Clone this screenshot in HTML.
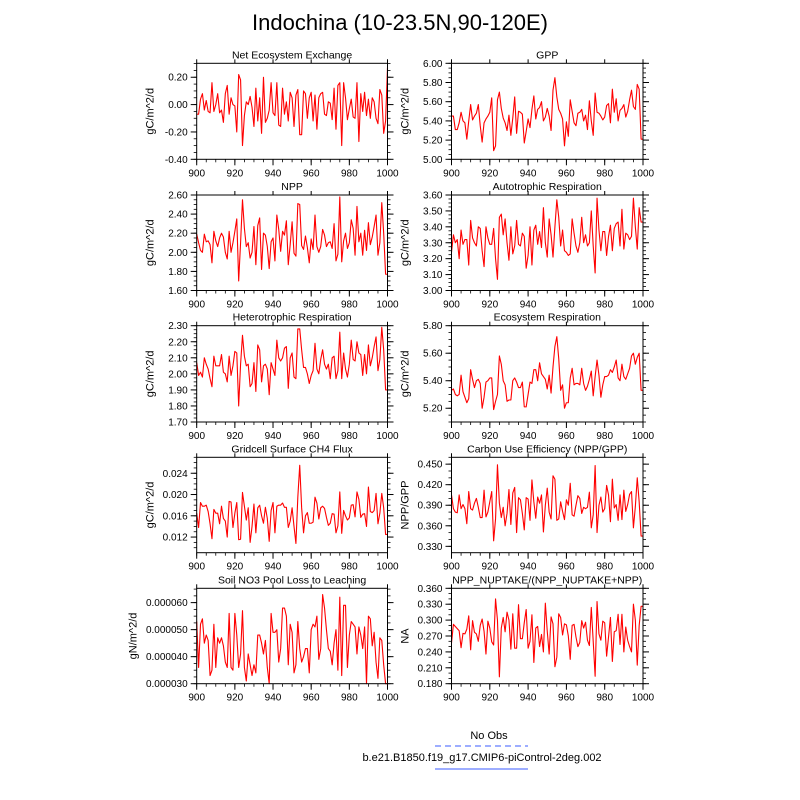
<!DOCTYPE html>
<html><head><meta charset="utf-8"><style>
body{margin:0;background:#fff;}
svg{display:block;font-family:"Liberation Sans",sans-serif;}
</style></head><body>
<svg id="fig" width="800" height="800" viewBox="0 0 800 800">
<text x="400" y="30" font-size="22" text-anchor="middle">Indochina (10-23.5N,90-120E)</text>
<text x="489" y="739" font-size="11" text-anchor="middle">No Obs</text>
<line x1="435" y1="746" x2="528" y2="746" stroke="#3b5bff" stroke-width="1" stroke-dasharray="6,4"/>
<text x="482" y="761" font-size="11" text-anchor="middle">b.e21.B1850.f19_g17.CMIP6-piControl-2deg.002</text>
<line x1="435" y1="769" x2="528" y2="769" stroke="#3b5bff" stroke-width="1"/>
</svg>
<script>
const years = []; for (let y = 900; y <= 1000; y++) years.push(y);
const xTicks = [900, 920, 940, 960, 980, 1000];
const neeVals = [-0.07,-0.07,0.04,0.08,-0.04,0.03,-0.05,-0.06,0.16,-0.05,0.0,0.08,-0.06,-0.04,-0.13,0.08,0.14,-0.07,0.05,0.0,-0.01,-0.20,0.22,0.18,-0.30,-0.08,0.02,0.0,0.06,-0.02,-0.16,0.12,-0.12,0.05,-0.21,0.20,-0.13,-0.10,-0.04,0.16,-0.06,-0.08,0.16,-0.15,-0.16,0.12,-0.07,0.02,-0.12,0.09,0.05,-0.16,0.07,0.11,-0.22,-0.22,0.10,0.08,-0.10,0.05,0.09,-0.12,0.07,-0.18,0.05,0.08,0.09,-0.07,-0.08,0.02,0.01,-0.11,0.12,-0.18,0.14,0.16,-0.30,0.16,0.05,-0.11,-0.03,0.04,-0.09,-0.10,0.16,-0.27,0.08,-0.05,0.09,-0.08,0.04,-0.10,0.05,0.02,-0.10,-0.14,0.11,0.07,-0.21,-0.12,0.27];
const gppVals = [5.45,5.45,5.31,5.31,5.38,5.49,5.40,5.38,5.21,5.40,5.57,5.41,5.45,5.48,5.57,5.35,5.18,5.38,5.42,5.45,5.49,5.64,5.09,5.14,5.62,5.70,5.53,5.43,5.38,5.30,5.46,5.25,5.43,5.65,5.27,5.50,5.49,5.47,5.17,5.29,5.42,5.33,5.52,5.66,5.42,5.52,5.54,5.60,5.40,5.44,5.53,5.45,5.30,5.72,5.85,5.65,5.52,5.48,5.42,5.14,5.39,5.24,5.62,5.50,5.38,5.35,5.48,5.49,5.52,5.40,5.46,5.31,5.61,5.40,5.25,5.69,5.49,5.48,5.45,5.41,5.44,5.56,5.58,5.38,5.73,5.49,5.63,5.40,5.51,5.53,5.57,5.44,5.50,5.62,5.72,5.55,5.52,5.78,5.73,5.21,5.21];
const nppVals = [2.19,2.10,2.02,2.00,2.19,2.11,2.12,2.08,1.89,2.22,2.12,2.06,2.15,2.20,2.16,2.00,1.93,2.22,2.00,2.10,2.22,2.35,1.70,2.10,2.55,2.25,2.06,2.10,1.94,2.00,2.27,1.87,2.28,2.36,1.82,2.20,2.18,2.06,1.83,2.11,2.15,1.91,2.39,2.24,2.01,2.22,2.18,2.33,1.87,2.08,2.32,1.99,1.96,2.51,2.50,2.07,2.03,2.17,2.05,1.89,2.14,2.03,2.39,2.06,2.00,2.06,2.24,2.18,2.06,2.10,2.11,2.04,2.30,1.91,1.98,2.58,1.90,2.12,2.20,2.04,2.10,2.34,2.25,1.97,2.48,2.11,2.20,1.97,2.23,2.02,2.31,2.08,2.16,2.27,2.39,1.97,2.10,2.52,2.20,1.77,1.77];
const arVals = [3.24,3.35,3.30,3.32,3.20,3.38,3.29,3.32,3.32,3.16,3.44,3.33,3.30,3.28,3.40,3.39,3.25,3.15,3.40,3.33,3.29,3.29,3.39,3.20,3.07,3.46,3.48,3.35,3.45,3.30,3.19,3.40,3.23,3.28,3.44,3.29,3.28,3.36,3.34,3.14,3.22,3.40,3.16,3.38,3.41,3.29,3.37,3.27,3.52,3.30,3.21,3.45,3.35,3.21,3.40,3.57,3.46,3.28,3.38,3.25,3.24,3.22,3.23,3.45,3.36,3.28,3.24,3.30,3.46,3.30,3.35,3.28,3.30,3.50,3.28,3.11,3.58,3.38,3.25,3.37,3.37,3.22,3.34,3.41,3.25,3.39,3.42,3.43,3.28,3.51,3.26,3.36,3.35,3.32,3.34,3.58,3.40,3.26,3.52,3.43,3.43];
const hrVals = [2.07,1.99,2.01,1.98,2.10,2.06,2.03,1.97,1.92,2.11,2.05,2.05,2.05,2.12,2.01,2.00,1.95,2.11,1.99,2.05,2.14,2.13,1.80,2.06,2.24,2.11,2.05,2.06,1.92,1.94,2.07,1.89,2.18,2.15,1.95,2.05,2.06,2.03,1.87,2.07,2.03,1.99,2.21,2.10,2.08,2.10,2.16,2.17,1.91,2.10,2.13,1.98,1.97,2.28,2.28,2.15,2.04,2.04,2.00,1.94,1.99,2.02,2.19,2.03,2.00,2.09,2.15,2.06,2.03,2.06,1.97,2.10,2.11,1.97,2.02,2.26,1.97,2.13,2.03,1.98,2.06,2.21,2.09,2.08,2.20,2.13,2.12,1.99,2.12,2.00,2.18,2.05,2.10,2.17,2.23,2.02,2.09,2.29,2.15,1.90,1.90];
const erVals = [5.33,5.34,5.30,5.29,5.30,5.44,5.32,5.28,5.24,5.27,5.48,5.41,5.35,5.40,5.41,5.38,5.20,5.28,5.39,5.40,5.42,5.42,5.19,5.25,5.30,5.58,5.52,5.40,5.37,5.25,5.26,5.26,5.40,5.42,5.39,5.35,5.35,5.39,5.21,5.21,5.30,5.39,5.38,5.48,5.48,5.40,5.53,5.45,5.43,5.41,5.34,5.44,5.31,5.50,5.65,5.72,5.56,5.33,5.37,5.20,5.24,5.24,5.42,5.49,5.37,5.38,5.38,5.37,5.49,5.38,5.33,5.36,5.41,5.47,5.29,5.43,5.55,5.44,5.28,5.37,5.43,5.43,5.44,5.48,5.46,5.50,5.55,5.42,5.40,5.52,5.43,5.41,5.45,5.49,5.58,5.60,5.52,5.57,5.60,5.33,5.33];
const ch4Vals = [16.5,13.8,18.5,17.8,17.8,18.0,16.8,14.5,11.7,17.2,16.5,16.5,14.5,17.8,15.5,15.0,12.0,18.7,18.6,13.8,16.5,18.5,11.5,11.6,20.4,17.8,15.2,17.5,11.0,14.0,18.2,12.8,17.5,18.0,16.0,14.6,17.6,15.5,11.2,17.0,18.5,12.8,17.8,18.0,18.0,18.4,17.6,17.6,13.8,15.0,17.5,14.0,10.8,19.5,25.5,17.5,12.8,16.0,16.6,14.6,14.6,14.8,19.5,18.4,15.4,17.5,17.8,17.4,15.7,14.2,14.6,16.4,16.3,12.8,14.1,20.5,12.7,17.0,16.0,15.2,15.6,18.0,18.1,15.8,20.5,19.1,15.7,16.3,16.4,14.0,21.4,16.8,16.6,17.0,20.2,14.5,16.5,20.2,17.5,12.5,12.5].map(v => v / 1000);
const cueVals = [0.405,0.385,0.380,0.379,0.405,0.385,0.391,0.385,0.363,0.410,0.385,0.383,0.393,0.400,0.387,0.372,0.372,0.412,0.373,0.380,0.395,0.410,0.338,0.370,0.449,0.393,0.372,0.387,0.360,0.378,0.413,0.362,0.408,0.416,0.350,0.401,0.398,0.378,0.354,0.401,0.399,0.368,0.427,0.395,0.371,0.402,0.393,0.405,0.351,0.390,0.415,0.380,0.370,0.433,0.428,0.368,0.370,0.395,0.381,0.369,0.398,0.390,0.422,0.376,0.374,0.390,0.404,0.400,0.378,0.387,0.385,0.387,0.409,0.357,0.376,0.448,0.350,0.390,0.402,0.380,0.385,0.419,0.405,0.366,0.428,0.386,0.391,0.368,0.405,0.369,0.412,0.381,0.391,0.406,0.410,0.357,0.388,0.430,0.395,0.345,0.345];
const no3Vals = [53,36,52,54,45,48,46,33,35,52,36,47,45,47,44,38,36,56,36,35,56,48,36,41,57,36,31,41,37,33,37,34,48,48,45,41,46,36,30,56,49,49,50,38,43,58,58,55,37,52,49,34,37,53,43,38,40,43,43,34,50,52,51,55,39,43,63,58,50,43,42,37,45,50,35,62,33,59,59,36,48,53,52,51,41,51,48,43,51,30,55,54,44,49,38,32,47,46,37,30,30].map(v => v / 1e6);
const naVals = [0.257,0.292,0.288,0.284,0.280,0.248,0.275,0.274,0.283,0.308,0.244,0.299,0.277,0.274,0.260,0.290,0.302,0.279,0.236,0.298,0.285,0.259,0.253,0.340,0.300,0.193,0.285,0.305,0.278,0.315,0.300,0.245,0.312,0.247,0.247,0.329,0.265,0.265,0.295,0.320,0.247,0.260,0.310,0.220,0.285,0.288,0.250,0.273,0.240,0.332,0.279,0.236,0.306,0.293,0.212,0.230,0.312,0.305,0.272,0.293,0.291,0.270,0.226,0.290,0.292,0.268,0.250,0.258,0.299,0.285,0.296,0.262,0.252,0.324,0.260,0.194,0.335,0.274,0.262,0.298,0.295,0.232,0.268,0.305,0.222,0.278,0.280,0.311,0.254,0.311,0.240,0.287,0.262,0.250,0.240,0.330,0.300,0.215,0.290,0.326,0.326];

const neeTicks = ["-0.40","-0.20","0.00","0.20"];
const gppTicks = ["5.00","5.20","5.40","5.60","5.80","6.00"];
const nppTicks = ["1.60","1.80","2.00","2.20","2.40","2.60"];
const arTicks = ["3.00","3.10","3.20","3.30","3.40","3.50","3.60"];
const hrTicks = ["1.70","1.80","1.90","2.00","2.10","2.20","2.30"];
const erTicks = ["5.20","5.40","5.60","5.80"];
const ch4Ticks = ["0.012","0.016","0.020","0.024"];
const cueTicks = ["0.330","0.360","0.390","0.420","0.450"];
const no3Ticks = ["0.000030","0.000040","0.000050","0.000060"];
const naTicks = ["0.180","0.210","0.240","0.270","0.300","0.330","0.360"];

const NS = "http://www.w3.org/2000/svg";
const svg = document.getElementById('fig');
function mk(tag, attrs, parent) {
  const e = document.createElementNS(NS, tag);
  for (const k in attrs) e.setAttribute(k, attrs[k]);
  (parent || svg).appendChild(e);
  return e;
}
const colX = [[196.7, 387.5], [451.5, 643]];
const rowY = [[63.3, 159.3], [195, 290.5], [325.7, 422], [457.3, 552.7], [588.3, 683.7]];
const panels = [
 {name:'nee', title:'Net Ecosystem Exchange', yt:'gC/m^2/d', vals:neeVals, ticks:neeTicks, min:-0.4, max:0.302, minor:0.05, c:0, r:0, yo:43},
 {name:'gpp', title:'GPP', yt:'gC/m^2/d', vals:gppVals, ticks:gppTicks, min:5.0, max:6.0, minor:0.05, c:1, r:0, yo:43},
 {name:'npp', title:'NPP', yt:'gC/m^2/d', vals:nppVals, ticks:nppTicks, min:1.6, max:2.6, minor:0.05, c:0, r:1, yo:43},
 {name:'ar', title:'Autotrophic Respiration', yt:'gC/m^2/d', vals:arVals, ticks:arTicks, min:3.0, max:3.6, minor:0.025, c:1, r:1, yo:43},
 {name:'hr', title:'Heterotrophic Respiration', yt:'gC/m^2/d', vals:hrVals, ticks:hrTicks, min:1.7, max:2.3, minor:0.025, c:0, r:2, yo:43},
 {name:'er', title:'Ecosystem Respiration', yt:'gC/m^2/d', vals:erVals, ticks:erTicks, min:5.1, max:5.8, minor:0.05, c:1, r:2, yo:43},
 {name:'ch4', title:'Gridcell Surface CH4 Flux', yt:'gC/m^2/d', vals:ch4Vals, ticks:ch4Ticks, min:0.00906, max:0.027, minor:0.001, c:0, r:3, yo:43},
 {name:'cue', title:'Carbon Use Efficiency (NPP/GPP)', yt:'NPP/GPP', vals:cueVals, ticks:cueTicks, min:0.3207, max:0.46, minor:0.01, c:1, r:3, yo:43},
 {name:'no3', title:'Soil NO3 Pool Loss to Leaching', yt:'gN/m^2/d', vals:no3Vals, ticks:no3Ticks, min:0.00003, max:0.0000653, minor:0.0000025, c:0, r:4, yo:60},
 {name:'na', title:'NPP_NUPTAKE/(NPP_NUPTAKE+NPP)', yt:'NA', vals:naVals, ticks:naTicks, min:0.18, max:0.36, minor:0.01, c:1, r:4, yo:43}
];
panels.forEach(p => {
  const [x0, x1] = colX[p.c], [y0, y1] = rowY[p.r];
  const g = mk('g', {});
  
  
  const xs = v => x0 + (v - 900) / 100 * (x1 - x0);
  const ys = v => y1 - (v - p.min) / (p.max - p.min) * (y1 - y0);
  const t = mk('text', {x:(x0+x1)/2, y:y0-5, 'font-size':10.5, 'text-anchor':'middle'}, g);
  t.textContent = p.title;
  
  
  const yl = mk('text', {x:0, y:0, 'font-size':11, 'text-anchor':'middle', transform:`translate(${x0-p.yo},${(y0+y1)/2}) rotate(-90)`}, g);
  yl.textContent = p.yt;
  
  
  for (let v = Math.ceil(p.min / p.minor - 1e-6) * p.minor; v <= p.max + 1e-12; v += p.minor) {
    const y = ys(v);
    mk('line', {x1:x0-3, y1:y, x2:x0, y2:y, stroke:'#000', 'stroke-width':0.8}, g);
    mk('line', {x1:x1, y1:y, x2:x1+3, y2:y, stroke:'#000', 'stroke-width':0.8}, g);
  }
  p.ticks.forEach(s => {
    const y = ys(parseFloat(s));
    mk('line', {x1:x0-6, y1:y, x2:x0, y2:y, stroke:'#000', 'stroke-width':1}, g);
    mk('line', {x1:x1, y1:y, x2:x1+6, y2:y, stroke:'#000', 'stroke-width':1}, g);
    const tl = mk('text', {x:x0-9, y:y+3.5, 'font-size':10, 'text-anchor':'end'}, g);
    tl.textContent = s;
    
    
  });
  for (let v = 900; v <= 1000; v += 5) {
    const x = xs(v);
    mk('line', {x1:x, y1:y1, x2:x, y2:y1+3, stroke:'#000', 'stroke-width':0.8}, g);
  }
  xTicks.forEach(v => {
    const x = xs(v);
    mk('line', {x1:x, y1:y1, x2:x, y2:y1+6, stroke:'#000', 'stroke-width':1}, g);
    mk('line', {x1:x, y1:y0-4, x2:x, y2:y0, stroke:'#000', 'stroke-width':1}, g);
    const tl = mk('text', {x:x, y:y1+17, 'font-size':10, 'text-anchor':'middle'}, g);
    tl.textContent = v;
    
    
  });
  const d = p.vals.map((v, i) => (i ? 'L' : 'M') + xs(years[i]).toFixed(2) + ',' + ys(v).toFixed(2)).join('');
  const line = mk('path', {d:d, fill:'none', stroke:'#ff0000', 'stroke-width':1.1, 'stroke-linejoin':'round'}, g);
  
  
  const fr = mk('rect', {x:x0, y:y0, width:x1-x0, height:y1-y0, fill:'none', stroke:'#000', 'stroke-width':1}, g);
  
  
});
</script>
</body></html>
